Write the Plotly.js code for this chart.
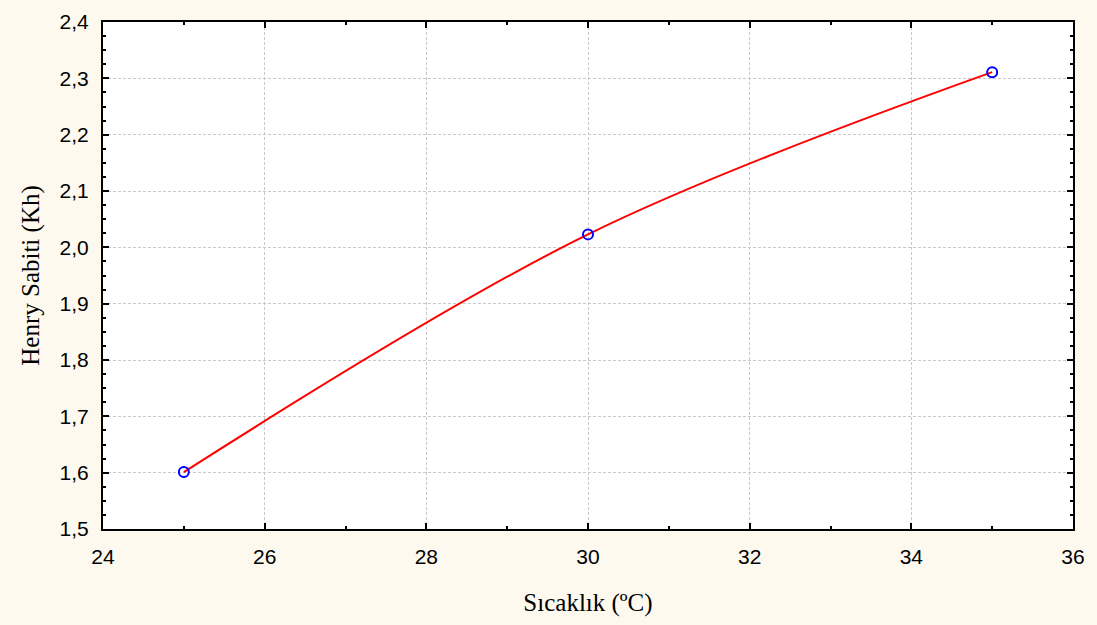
<!DOCTYPE html>
<html><head><meta charset="utf-8">
<script src="https://cdn.plot.ly/plotly-3.0.1.min.js"></script>
<style>html,body{margin:0;padding:0;background:#fdf9ee;}#chart{width:1097px;height:625px;}</style>
</head><body><div id="chart"></div>
<script>
var temperature = [25, 30, 35];
var henryConstant = [1.601, 2.023, 2.311];
var xTitle = 'Sıcaklık (ºC)';
var yTitle = 'Henry Sabiti (Kh)';

var traces = [
  {x: temperature, y: henryConstant, type: 'scatter', mode: 'lines',
   line: {color: '#ff0000', width: 2, shape: 'spline', smoothing: 1}, hoverinfo: 'skip'},
  {x: temperature, y: henryConstant, type: 'scatter', mode: 'markers',
   marker: {symbol: 'circle-open', size: 10, color: '#0000ff', line: {width: 2, color: '#0000ff'}}}
];

var axisCommon = {
  showline: true, linecolor: '#000', linewidth: 2, mirror: 'ticks',
  ticks: 'inside', ticklen: 6, tickwidth: 2, tickcolor: '#000',
  showgrid: true, gridcolor: '#c8c8c8', gridwidth: 1, griddash: '3px,2px',
  zeroline: false,
  tickfont: {family: 'Liberation Sans, Arial, sans-serif', size: 21, color: '#000'}
};

var layout = {
  width: 1097, height: 625,
  paper_bgcolor: '#fdf9ee', plot_bgcolor: '#ffffff',
  margin: {l: 103, r: 24, t: 22, b: 96},
  showlegend: false,
  separators: ',.',
  xaxis: Object.assign({}, axisCommon, {
    range: [24, 36], dtick: 2, tick0: 24,
    ticklabelstandoff: 8,
    minor: {dtick: 1, ticks: 'inside', ticklen: 3, tickwidth: 2, tickcolor: '#000', showgrid: false},
    title: {text: xTitle, standoff: 26, font: {family: 'Liberation Serif, Times New Roman, serif', size: 25, color: '#000'}}
  }),
  yaxis: Object.assign({}, axisCommon, {
    range: [1.5, 2.4], dtick: 0.1, tick0: 1.5, tickformat: '.1f',
    ticklabelstandoff: 8,
    minor: {dtick: 0.025, ticks: 'inside', ticklen: 3, tickwidth: 2, tickcolor: '#000', showgrid: false},
    title: {text: yTitle, standoff: 13, font: {family: 'Liberation Serif, Times New Roman, serif', size: 25, color: '#000'}}
  })
};

Plotly.newPlot('chart', traces, layout, {displayModeBar: false, staticPlot: true});
</script></body></html>
